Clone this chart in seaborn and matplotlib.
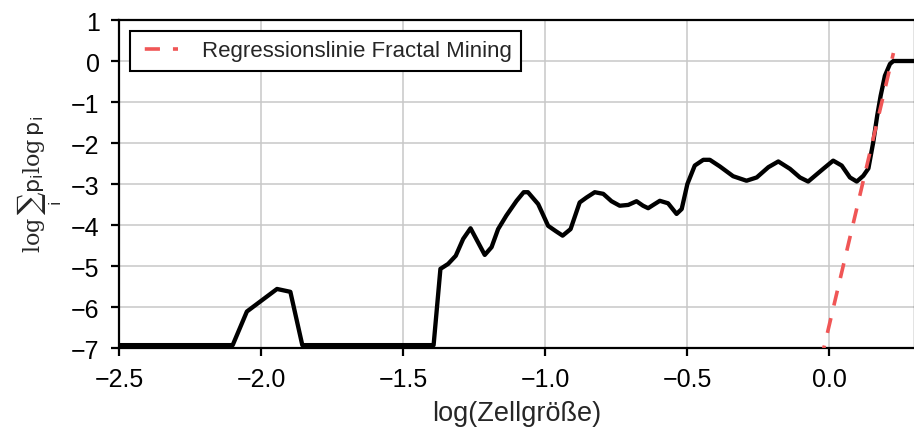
import matplotlib
matplotlib.use("Agg")
import matplotlib.pyplot as plt
import seaborn as sns
import pandas as pd

# Entropy curve: log(cell size) vs. log sum p_i log p_i
cell_log = [-2.500, -2.100, -2.050, -1.944, -1.897, -1.855, -1.393, -1.369,
            -1.342, -1.315, -1.289, -1.263, -1.213, -1.189, -1.166, -1.137,
            -1.101, -1.076, -1.061, -1.025, -0.990, -0.963, -0.939, -0.911,
            -0.879, -0.855, -0.826, -0.796, -0.767, -0.738, -0.708, -0.679,
            -0.656, -0.638, -0.620, -0.597, -0.568, -0.538, -0.520, -0.500,
            -0.474, -0.444, -0.421, -0.386, -0.339, -0.292, -0.256, -0.215,
            -0.180, -0.139, -0.104, -0.075, -0.022, 0.013, 0.043, 0.072,
            0.096, 0.119, 0.137, 0.154, 0.168, 0.180, 0.195, 0.213, 0.225,
            0.300]
entropy_log = [-6.93, -6.93, -6.11, -5.56, -5.63, -6.93, -6.93, -5.07,
               -4.95, -4.75, -4.34, -4.08, -4.73, -4.54, -4.10, -3.77,
               -3.41, -3.20, -3.20, -3.49, -4.02, -4.15, -4.26, -4.10,
               -3.45, -3.33, -3.20, -3.24, -3.42, -3.53, -3.51, -3.42,
               -3.53, -3.59, -3.51, -3.41, -3.47, -3.73, -3.61, -3.00,
               -2.55, -2.41, -2.41, -2.57, -2.81, -2.92, -2.84, -2.59,
               -2.45, -2.63, -2.84, -2.94, -2.63, -2.43, -2.55, -2.84,
               -2.94, -2.80, -2.62, -1.98, -1.33, -0.85, -0.36, -0.07, 0.00,
               0.00]

# Fitted regression line (end points)
reg_x = [-0.030, 0.225]
reg_y = [-7.30, 0.195]

x_ticks = [-2.5, -2.0, -1.5, -1.0, -0.5, 0.0]
y_ticks = [-7, -6, -5, -4, -3, -2, -1, 0, 1]

sns.set_style("ticks", {"axes.grid": True})
plt.rcParams["font.family"] = ["Liberation Sans", "DejaVu Sans"]
plt.rcParams["mathtext.fontset"] = "dejavuserif"

fig = plt.figure(figsize=(9.14, 4.35), dpi=100)
ax = fig.add_axes([0.1302, 0.1977, 0.8706, 0.754])

curve = pd.DataFrame({"x": cell_log, "y": entropy_log})
reg = pd.DataFrame({"x": reg_x, "y": reg_y})

sns.lineplot(data=curve, x="x", y="y", sort=False, color="black",
             linewidth=3.1, ax=ax, zorder=3)
sns.lineplot(data=reg, x="x", y="y", sort=False, color="#F05656",
             linewidth=2.6, ax=ax, zorder=4,
             label="Regressionslinie Fractal Mining")
reg_line = ax.lines[-1]
reg_line.set_linestyle((0, (4.2, 3.6)))

ax.set_xlim(-2.5, 0.3)
ax.set_ylim(-7, 1)
ax.set_xticks(x_ticks)
ax.set_yticks(y_ticks)
ax.set_xticklabels([f"{t:.1f}".replace("-", "\u2212") for t in x_ticks])
ax.set_yticklabels([f"{t}".replace("-", "\u2212") for t in y_ticks])

ax.grid(True, color="#c8c8c8", linewidth=1.1)
for side in ["left", "bottom", "top", "right"]:
    ax.spines[side].set_visible(True)
    ax.spines[side].set_color("black")
    ax.spines[side].set_linewidth(1.6)
ax.tick_params(axis="both", direction="out", length=6, width=1.6,
               pad=8, labelsize=18, colors="black")
ax.tick_params(top=False, right=False)

ax.set_xlabel("log(Zellgröße)", fontsize=19.5, labelpad=6)
ax.set_ylabel(r"$\log\sum_{\mathsf{i}}\mathsf{p}_{\mathsf{i}}\log\mathsf{p}_{\mathsf{i}}$",
              fontsize=16, labelpad=5)

leg = ax.legend(loc="upper left", fontsize=16, frameon=True, fancybox=False,
                handlelength=1.72, handletextpad=1.1, borderpad=0.42)
leg.get_frame().set_edgecolor("black")
leg.get_frame().set_linewidth(1.5)
leg.get_frame().set_alpha(1)
# start the legend sample inside a gap so it reads as dash + dot
leg.get_lines()[0].set_linestyle((6.2, (4.2, 3.6)))

fig.savefig("out.png", dpi=100)
